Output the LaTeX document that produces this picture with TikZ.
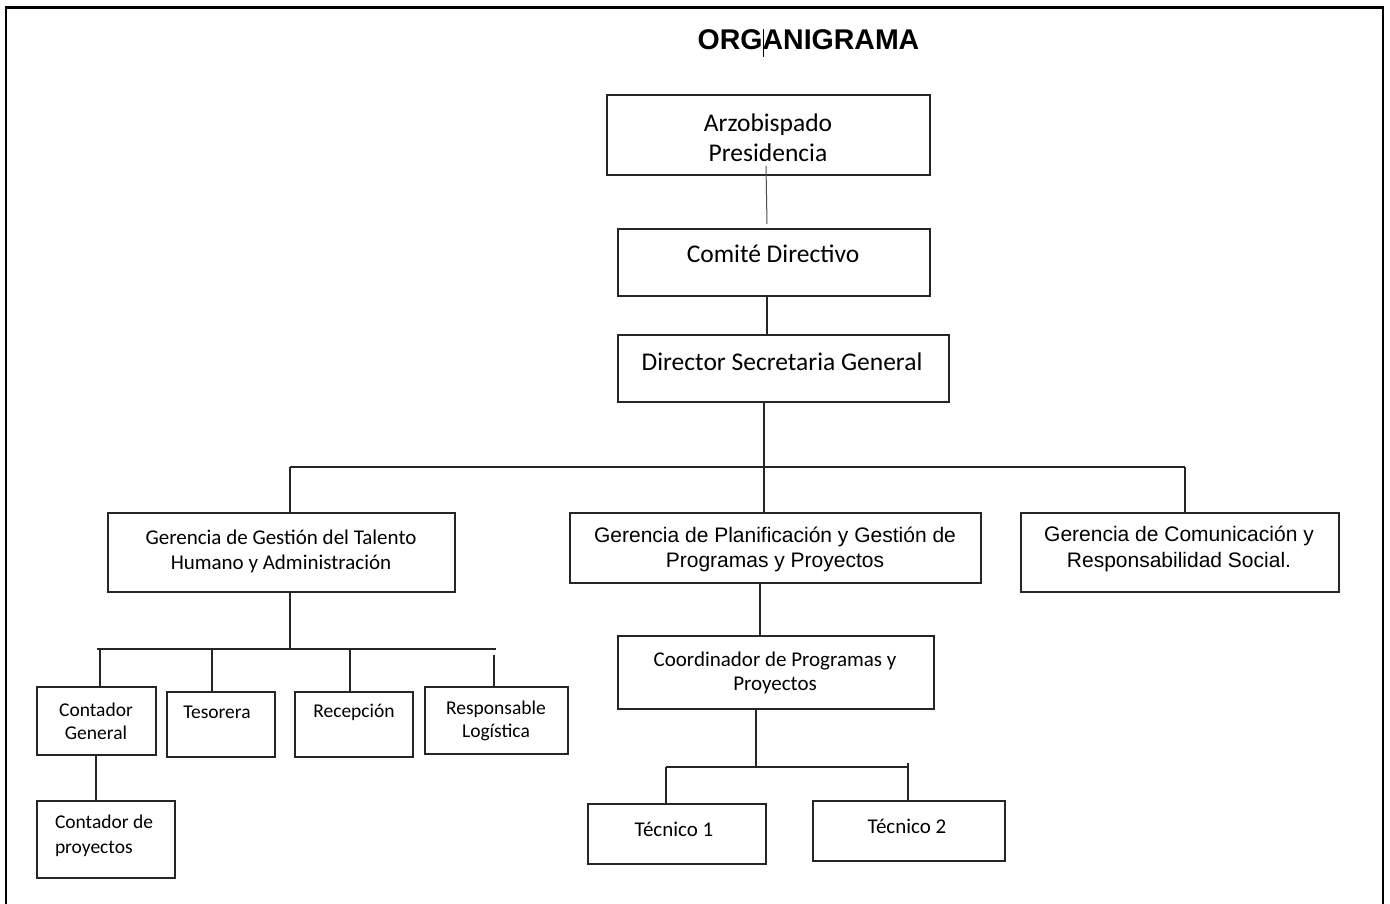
\documentclass[tikz,border=0pt]{standalone}
\usepackage{fontspec}
\setmainfont{Carlito}
\newfontfamily\arialf{Liberation Sans}
\tikzset{
  box/.style={draw=black!85, line width=1.4pt, inner sep=0pt, outer sep=0pt},
  conn/.style={draw=black!85, line width=1.4pt},
  lbl/.style={inner sep=0pt, outer sep=0pt, align=center, text=black},
  big/.style={lbl, font=\fontsize{25.5}{30}\selectfont},
  mid/.style={lbl, font=\fontsize{21}{25}\selectfont},
  ari/.style={lbl, font=\arialf\fontsize{21}{25.5}\selectfont},
  sml/.style={lbl, font=\fontsize{19.5}{23}\selectfont},
}
\newcommand\obox[5]{\node[box, minimum width={(#4-#2)*1pt}, minimum height={(#5-#3)*1pt}] (#1) at ({(#2+#4)/2},{(#3+#5)/2}) {};}
\begin{document}
\begin{tikzpicture}[x=1pt, y=-1pt]
\useasboundingbox (0,0) rectangle (1390,903);
% frame
\draw[line width=2.2pt] (6,910) -- (6,7.5) -- (1383,7.5) -- (1383,910);
% title
\node[lbl, font=\arialf\bfseries\fontsize{28.5}{34}\selectfont] (title) at (808.5,40) {ORGANIGRAMA};
\coordinate (curA) at (763.5,29);
\coordinate (curB) at (763.5,57);
\draw[line width=1pt] (curA) -- (curB);
% boxes
\obox{arz}{607}{95}{930}{175}
\obox{com}{618}{229}{930}{296}
\obox{dir}{618}{335}{949}{402}
\obox{gt}{108}{513}{455}{592}
\obox{gp}{570}{513}{981}{583}
\obox{gc}{1021}{513}{1339}{592}
\obox{cg}{37}{687}{156}{755}
\obox{tes}{167}{692}{275}{757}
\obox{rec}{295}{692}{413}{757}
\obox{rl}{425}{687}{568}{754}
\obox{cp}{37}{801}{175}{878}
\obox{coo}{618}{636}{934}{709}
\obox{tu}{588}{804}{766}{864}
\obox{td}{813}{801}{1005}{861}
% texts
\node[big] (arzT) at (768,138) {Arzobispado\\Presidencia};
\node[big] (comT) at (773,254) {Comité Directivo};
\node[big] (dirT) at (782,362) {Director Secretaria General};
\node[mid] (gtT) at (281,551.5) {Gerencia de Gestión del Talento\\Humano y Administración};
\node[ari] (gpT) at (775,549.5) {Gerencia de Planificación y Gestión de\\Programas y Proyectos};
\node[ari] (gcT) at (1179,549) {Gerencia de Comunicación y\\Responsabilidad Social.};
\node[sml] (cgT) at (96,721) {Contador\\General};
\node[sml] (tesT) at (217,712) {Tesorera};
\node[sml] (recT) at (354,712) {Recepción};
\node[sml] (rlT) at (496,721) {Responsable\\Logística};
\node[sml, anchor=west, align=left, font=\fontsize{19.5}{25}\selectfont] (cpT) at (55,836) {Contador de\\proyectos};
\node[mid, font=\fontsize{21}{24}\selectfont] (cooT) at (775,673) {Coordinador de Programas y\\Proyectos};
\node[mid] (tuT) at (674,829) {Técnico 1};
\node[mid] (tdT) at (907,826) {Técnico 2};
% connectors: top chain
\coordinate (a1) at (766,166);
\coordinate (a2) at (767,224);
\draw[line width=1pt, draw=black!70] (a1) -- (a2);
\coordinate (k2) at (767,316);
\draw[conn] (com.south -| k2) -- (dir.north -| k2);
% main bus
\coordinate (busA) at (290,467);
\coordinate (busB) at (764,467);
\coordinate (busC) at (1185,467);
\draw[conn] (dir.south -| busB) -- (busB);
\draw[conn] (busA) -- (busC);
\draw[conn] (busA) -- (gt.north -| busA);
\draw[conn] (busB) -- (gp.north -| busB);
\draw[conn] (busC) -- (gc.north -| busC);
% left sub bus
\coordinate (sb) at (290,649);
\coordinate (sbL) at (97,649);
\coordinate (sbR) at (496,649);
\draw[conn] (gt.south -| sb) -- (sb);
\draw[conn] (sbL) -- (sbR);
\coordinate (d1) at (100,649);
\coordinate (d2) at (212,649);
\coordinate (d3) at (350,649);
\coordinate (d4) at (494,655);
\draw[conn] (d1) -- (cg.north -| d1);
\draw[conn] (d2) -- (tes.north -| d2);
\draw[conn] (d3) -- (rec.north -| d3);
\draw[conn] (d4) -- (rl.north -| d4);
\coordinate (d5) at (96,780);
\draw[conn] (cg.south -| d5) -- (cp.north -| d5);
% middle branch
\coordinate (m1) at (760,610);
\draw[conn] (gp.south -| m1) -- (coo.north -| m1);
\coordinate (tb) at (756,767);
\coordinate (tbL) at (666,767);
\coordinate (tbR) at (908,767);
\coordinate (tbR2) at (908,763);
\draw[conn] (coo.south -| tb) -- (tb);
\draw[conn] (tbL) -- (tbR);
\draw[conn] (tbL) -- (tu.north -| tbL);
\draw[conn] (tbR2) -- (td.north -| tbR2);
\end{tikzpicture}
\end{document}
